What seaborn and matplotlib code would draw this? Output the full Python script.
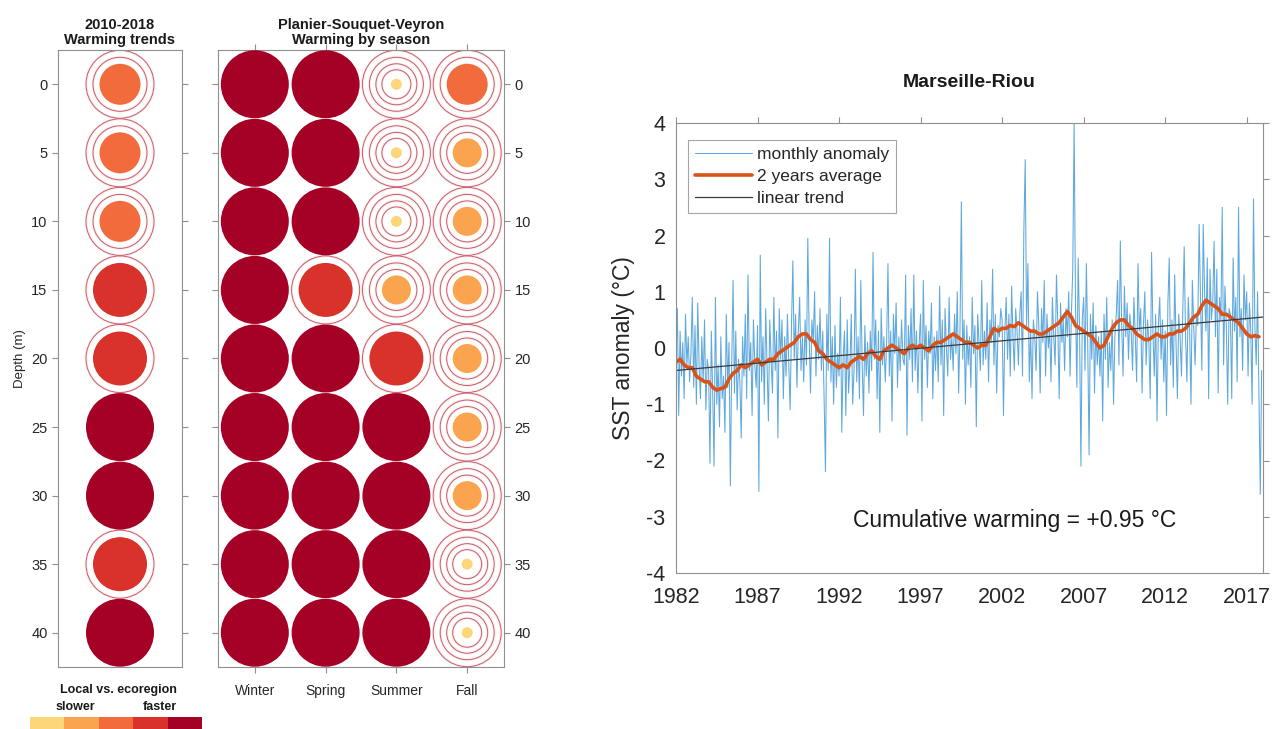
import numpy as np
import pandas as pd
import seaborn as sns
import matplotlib.pyplot as plt
from matplotlib.colors import ListedColormap

# ---- bubble panels: warming level (1 = slower ... 5 = faster) ----
depths = [0, 5, 10, 15, 20, 25, 30, 35, 40]
trend_level = [3, 3, 3, 4, 4, 5, 5, 4, 5]
seasons = ["Winter", "Spring", "Summer", "Fall"]
winter_level = [5, 5, 5, 5, 5, 5, 5, 5, 5]
spring_level = [5, 5, 5, 4, 5, 5, 5, 5, 5]
summer_level = [1, 1, 1, 2, 4, 5, 5, 5, 5]
fall_level = [3, 2, 2, 2, 2, 2, 2, 1, 1]
levels = [1, 2, 3, 4, 5]
level_colors = ["#fdd67a", "#fba44f", "#f26b3d", "#d8322a", "#a50026"]

# ---- Marseille-Riou SST anomaly, monthly, Jan 1982 - Dec 2017 ----
monthly_anomaly = [
    -0.2, 0.7, -1.2, 0.3, -0.5, 0.1, -0.9, 0.6, -0.3, 0.2, -0.6, -0.1,    # 1982
    0.9, -0.7, 0.4, -1.0, 0.8, -0.3, -0.9, 0.2, -0.6, 0.5, -1.1, -0.2,    # 1983
    -0.4, -2.05, 0.3, -0.8, -2.1, 0.9, -1.0, -0.3, -1.4, 0.2, -0.9, -0.5, # 1984
    -1.5, 0.6, -0.7, 0.1, -2.45, -0.3, 1.2, -0.8, 0.3, -1.1, -0.2, -0.6,  # 1985
    -1.6, 0.2, -0.5, 0.6, -0.9, 1.3, -0.4, 0.1, -1.2, 0.5, -0.3, -0.7,    # 1986
    0.4, -2.55, 1.65, -0.6, 0.2, -1.0, 0.7, -0.3, -1.3, 0.5, -0.2, -0.8,  # 1987
    0.9, -0.4, 0.3, -1.6, 0.7, -0.2, 0.5, -0.9, 0.2, -0.5, 0.6, -0.3,     # 1988
    -1.1, 0.4, 1.55, -0.2, 0.6, -0.7, 0.3, 0.9, -0.4, 0.2, -0.6, 0.5,     # 1989
    -0.3, 1.95, 0.2, -0.8, 0.5, 0.1, 1.0, -0.5, 0.4, -0.2, 0.7, -0.4,     # 1990
    0.3, -0.9, -2.2, 0.6, -0.4, 1.95, -0.6, 0.2, -1.0, 0.4, -0.7, -0.1,   # 1991
    -0.5, 0.9, -1.5, -0.2, 0.3, -1.2, 0.5, -0.8, -0.3, 0.6, -1.0, -0.4,   # 1992
    1.4, -0.6, 0.2, -0.9, 1.2, -0.3, -1.2, 0.4, -0.5, 0.1, -0.8, 0.3,     # 1993
    -0.4, 1.7, -0.2, 0.5, -0.9, 0.3, -1.5, 0.7, -0.3, 0.2, -0.6, 0.1,     # 1994
    1.5, -0.5, 0.3, -1.3, 0.6, -0.1, 0.8, -0.7, 0.2, -0.4, 0.5, -0.2,     # 1995
    -0.3, 1.3, -1.55, 0.4, -0.2, 0.7, -0.6, 1.3, -0.4, 0.3, -0.8, 0.1,    # 1996
    0.6, -1.3, 1.2, -0.2, 0.4, -0.7, 0.3, -0.1, 0.8, -0.9, 0.2, -0.4,     # 1997
    0.3, -0.6, 1.1, -0.3, 0.5, -1.2, 0.7, 0.0, -0.5, 0.9, -0.2, 0.2,      # 1998
    -0.4, 0.6, -0.1, 1.0, -0.8, 0.3, 2.6, -0.2, 0.5, -1.0, 0.4, -0.3,     # 1999
    0.2, -0.7, 0.9, -0.1, 0.4, -1.4, 0.6, 0.1, -0.4, 1.2, -0.3, 0.3,      # 2000
    -0.2, 0.8, -0.6, 0.5, 0.1, 1.4, -0.3, 0.6, -0.8, 0.4, 0.2, 0.7,       # 2001
    0.5, -1.2, 0.3, 0.9, -0.2, 0.6, -0.5, 1.1, 0.2, -0.4, 0.7, 0.3,       # 2002
    -0.3, 0.6, 1.0, -0.5, 2.1, 3.35, 0.4, 1.5, -0.6, 0.3, -0.9, 0.5,      # 2003
    0.2, -0.4, 1.0, 0.4, -0.8, 0.7, 0.1, 1.2, -0.5, 0.6, 0.0, 0.3,        # 2004
    -0.6, 0.9, 0.2, -0.3, 1.3, 0.4, -0.9, 0.8, 0.1, 0.5, -0.4, 0.7,       # 2005
    0.2, 1.0, -0.5, 0.6, 1.4, 4.0, 0.8, -0.7, 1.6, 0.3, -2.1, 0.5,        # 2006
    0.9, -0.4, 1.5, 0.1, -1.9, 0.6, -0.2, 0.8, -0.8, 0.4, -0.3, 0.2,      # 2007
    -0.5, 0.3, -1.3, 0.6, -0.2, 0.9, -0.7, 0.1, -0.4, 0.5, -1.0, 0.2,     # 2008
    0.6, 1.2, -0.3, 1.9, 0.4, -0.5, 1.1, 0.2, 0.8, -0.2, 0.6, 0.3,        # 2009
    -0.4, 0.9, 0.2, -0.6, 1.5, 0.3, 0.7, -0.8, 0.4, 1.0, -0.3, 0.5,       # 2010
    0.1, -0.9, 1.7, 0.3, -0.5, 0.6, -1.3, 0.4, 0.9, -0.2, 0.5, -0.6,      # 2011
    0.3, -1.2, 0.8, 1.6, -0.3, 0.5, -0.7, 1.3, 0.1, -0.9, 0.6, 0.2,       # 2012
    -0.5, 0.7, 1.8, 0.2, -0.6, 0.9, 0.3, -1.0, 1.2, 0.4, -0.3, 0.6,       # 2013
    0.4, 2.2, 0.9, -0.4, 2.2, 1.0, 0.3, 1.6, -0.9, 1.4, 0.5, 0.8,         # 2014
    1.9, 0.2, 1.4, -0.8, 0.9, 0.5, 2.5, -0.3, 1.1, 0.4, -1.0, 0.7,        # 2015
    0.6, -0.9, 1.6, 0.3, 0.9, -0.6, 2.5, 0.2, 0.7, -0.4, 1.3, 0.5,        # 2016
    1.0, -0.5, 0.8, 0.3, -1.0, 2.65, 0.4, -0.3, 1.0, -0.8, -2.6, -0.4,    # 2017
]

# 2 years average, read every quarter from 1982.0
two_year_avg = [
    -0.25, -0.2, -0.3, -0.35, -0.35, -0.5, -0.55, -0.6,
    -0.6, -0.7, -0.75, -0.72, -0.7, -0.55, -0.45, -0.4,
    -0.3, -0.35, -0.3, -0.25, -0.2, -0.3, -0.25, -0.2,
    -0.2, -0.1, -0.05, 0.0, 0.05, 0.1, 0.2, 0.25,
    0.25, 0.15, 0.1, -0.05, -0.1, -0.2, -0.25, -0.3,
    -0.35, -0.3, -0.35, -0.25, -0.2, -0.15, -0.2, -0.1,
    -0.05, -0.15, -0.2, -0.05, 0.0, 0.05, 0.0, -0.05,
    -0.1, 0.0, 0.05, 0.0, 0.05, 0.0, -0.05, 0.05,
    0.1, 0.1, 0.15, 0.2, 0.25, 0.2, 0.15, 0.1,
    0.1, 0.05, 0.0, 0.05, 0.05, 0.2, 0.35, 0.3,
    0.35, 0.35, 0.4, 0.38, 0.45, 0.4, 0.35, 0.3,
    0.3, 0.25, 0.25, 0.3, 0.35, 0.4, 0.45, 0.55,
    0.65, 0.55, 0.4, 0.35, 0.3, 0.25, 0.2, 0.1,
    0.0, 0.05, 0.2, 0.35, 0.45, 0.5, 0.5, 0.4,
    0.35, 0.25, 0.2, 0.15, 0.15, 0.2, 0.25, 0.2,
    0.2, 0.25, 0.25, 0.3, 0.3, 0.35, 0.45, 0.55,
    0.6, 0.75, 0.85, 0.8, 0.75, 0.7, 0.6, 0.6,
    0.55, 0.5, 0.45, 0.35, 0.25, 0.2, 0.22, 0.2,
]
trend_years = [1982, 2018]
trend_values = [-0.40, 0.55]
year_ticks = [1982, 1987, 1992, 1997, 2002, 2007, 2012, 2017]

sns.set_style("white")
plt.rcParams["font.family"] = ["Liberation Sans", "DejaVu Sans"]
plt.rcParams["axes.unicode_minus"] = False
plt.rcParams["axes.edgecolor"] = "#8f8f8f"
plt.rcParams["axes.linewidth"] = 0.8
plt.rcParams["xtick.color"] = "#8f8f8f"
plt.rcParams["ytick.color"] = "#8f8f8f"
plt.rcParams["xtick.labelcolor"] = "#262626"
plt.rcParams["ytick.labelcolor"] = "#262626"

W, H = 1280, 729
fig = plt.figure(figsize=(W / 100, H / 100), dpi=100)


def fig_box(x0, y0, x1, y1):
    return [x0 / W, 1 - y1 / H, (x1 - x0) / W, (y1 - y0) / H]


radius_px = {1: 5.5, 2: 14.5, 3: 20.5, 4: 27, 5: 34}


def area(r):
    return (2 * r * 0.72) ** 2


def draw_bubbles(ax, xs, ys, lv):
    df = pd.DataFrame({"x": xs, "depth": ys, "level": lv})
    for ring in range(2, 6):
        sub = df[df["level"] < ring]
        if sub.empty:
            continue
        ax.scatter(sub["x"], sub["depth"], s=area(radius_px[ring]), facecolors="none",
                   edgecolors="#fdf0e2", linewidths=2.0, zorder=1)
        ax.scatter(sub["x"], sub["depth"], s=area(radius_px[ring]), facecolors="none",
                   edgecolors="#c9587a", linewidths=0.7, zorder=2)
    sns.scatterplot(data=df, x="x", y="depth", hue="level", size="level",
                    palette=dict(zip(levels, level_colors)),
                    sizes={k: area(v) for k, v in radius_px.items()},
                    linewidth=0, legend=False, ax=ax, zorder=3)
    ax.set_ylim(42.5, -2.5)
    ax.set_yticks(depths)
    ax.set_xlabel("")
    ax.set_ylabel("")


# left panel
ax1 = fig.add_axes(fig_box(58, 50, 182, 667))
draw_bubbles(ax1, [1] * len(depths), depths, trend_level)
ax1.set_xlim(0.5, 1.5)
ax1.set_xticks([])
ax1.tick_params(axis="y", direction="out", length=4, width=0.8, left=True, right=True,
                labelsize=10.5)
ax1.set_ylabel("Depth (m)", fontsize=9.5, color="#262626", labelpad=4)
ax1.set_title("2010-2018\nWarming trends", fontsize=10.5, fontweight="bold",
              color="#1a1a1a", pad=4, linespacing=1.15)

# middle panel
ax2 = fig.add_axes(fig_box(218, 50, 504, 667))
season_x, season_y, season_lv = [], [], []
for i, col in enumerate([winter_level, spring_level, summer_level, fall_level]):
    season_x += [i + 1] * len(depths)
    season_y += depths
    season_lv += col
draw_bubbles(ax2, season_x, season_y, season_lv)
ax2.set_xlim(0.48, 4.52)
ax2.set_xticks([1, 2, 3, 4])
ax2.set_xticklabels(seasons)
ax2.tick_params(axis="x", direction="out", length=4, width=0.8, top=True, bottom=True,
                labelsize=10, pad=8)
ax2.tick_params(axis="y", direction="out", length=4, width=0.8, left=True, right=True,
                labelleft=False, labelright=True, labelsize=10.5)
ax2.set_title("Planier-Souquet-Veyron\nWarming by season", fontsize=10.5,
              fontweight="bold", color="#1a1a1a", pad=4, linespacing=1.15)

# colour key
cax = fig.add_axes(fig_box(30, 717, 202, 729))
sns.heatmap(np.array([levels]), cmap=ListedColormap(level_colors), cbar=False,
            xticklabels=False, yticklabels=False, ax=cax)
fig.text(118 / W, 1 - 690 / H, "Local vs. ecoregion", ha="center", va="center",
         fontsize=9, fontweight="bold", color="#1a1a1a")
fig.text(75 / W, 1 - 707 / H, "slower", ha="center", va="center",
         fontsize=9, fontweight="bold", color="#1a1a1a")
fig.text(160 / W, 1 - 707 / H, "faster", ha="center", va="center",
         fontsize=9, fontweight="bold", color="#1a1a1a")

# right panel: time series
ax3 = fig.add_axes(fig_box(676, 123, 1263, 573))
monthly = pd.DataFrame({
    "year": [1982 + i / 12 for i in range(len(monthly_anomaly))],
    "anomaly": monthly_anomaly,
})
smooth = pd.DataFrame({
    "year": [1982 + i / 4 for i in range(len(two_year_avg))],
    "anomaly": two_year_avg,
})
trend = pd.DataFrame({"year": trend_years, "anomaly": trend_values})

sns.lineplot(data=monthly, x="year", y="anomaly", color="#5ea8dd", linewidth=0.75,
             label="monthly anomaly", ax=ax3)
sns.lineplot(data=smooth, x="year", y="anomaly", color="#d95319", linewidth=2.6,
             label="2 years average", ax=ax3)
sns.lineplot(data=trend, x="year", y="anomaly", color="#3a3a3a", linewidth=0.9,
             label="linear trend", ax=ax3)

ax3.set_xlim(1982, 2018)
ax3.set_ylim(-4, 4)
ax3.set_xticks(year_ticks)
ax3.set_yticks(range(-4, 5))
ax3.tick_params(direction="out", length=4, width=0.8, top=True, right=True,
                labelsize=15.5)
ax3.tick_params(axis="x", pad=6)
ax3.set_xlabel("")
ax3.set_ylabel("SST anomaly (°C)", fontsize=16.5, color="#262626", labelpad=8)
ax3.set_title("Marseille-Riou", fontsize=14, fontweight="bold", color="#1a1a1a", pad=26)
ax3.text(2002.75, -3.06, "Cumulative warming = +0.95 °C", ha="center", va="center",
         fontsize=16.5, color="#1a1a1a")

leg = ax3.legend(loc="upper left", bbox_to_anchor=(0.02, 0.962), borderaxespad=0,
                 fontsize=12.5, frameon=True, fancybox=False, handlelength=3.3,
                 labelspacing=0.4, handletextpad=0.3, borderpad=0.4)
leg.get_frame().set_edgecolor("#8f8f8f")
leg.get_frame().set_linewidth(0.8)

fig.savefig("out.png", dpi=100)
